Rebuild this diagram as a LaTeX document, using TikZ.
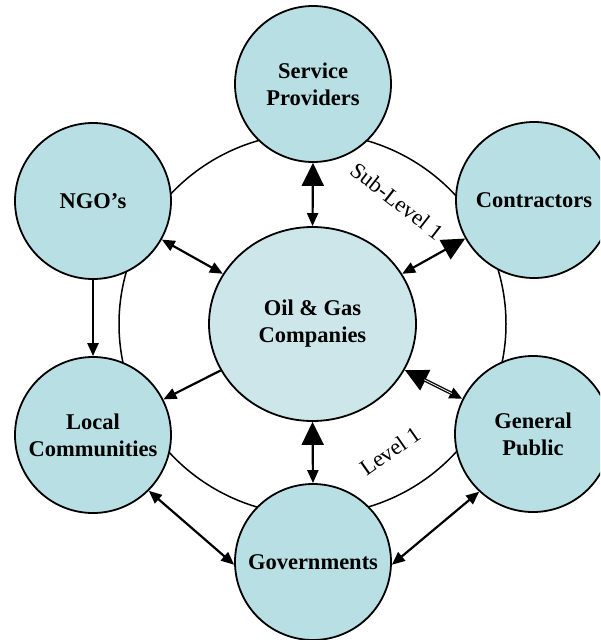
\documentclass[tikz,border=0pt]{standalone}
\usepackage{fontspec}
\setmainfont{Liberation Serif}
\usetikzlibrary{arrows.meta,shapes.geometric}
\definecolor{outerfill}{RGB}{184,223,227}
\definecolor{innerfill}{RGB}{204,230,234}
\tikzset{
  BigHead/.tip={Triangle[length=23pt,width=22pt]},
  SmallHead/.tip={Triangle[length=13pt,width=11pt]},
}
\begin{document}
\begin{tikzpicture}[x=1pt,y=-1pt,
  txt/.style={font=\fontsize{22.5}{27}\selectfont, inner sep=0pt},
  party/.style={circle, draw=black, line width=1.8pt, fill=outerfill,
    minimum size=156pt, inner sep=0pt, align=center,
    font=\fontsize{22.5}{27}\selectfont\bfseries},
  hub/.style={ellipse, draw=black, line width=1.8pt, fill=innerfill,
    minimum width=207pt, minimum height=194pt, inner sep=0pt, align=center,
    font=\fontsize{22.5}{27}\selectfont\bfseries},
  link/.style={line width=2.2pt},
  ring/.style={line width=1.5pt}
]
\useasboundingbox (0,0) rectangle (600,640);
\fill[white] (0,0) rectangle (600,640);
\begin{scope}
\clip (0,0) rectangle (600,640);
\draw[ring] (312.5,324) ellipse [x radius=193.5pt, y radius=191pt];

\node[hub] (oil) at (312.5,324) {Oil \& Gas\\Companies};
\node[party] (sp) at (313,84) {Service\\Providers};
\node[party] (ngo) at (93,201) {NGO’s};
\node[party] (con) at (534,200) {Contractors};
\node[party] (lc) at (93,435) {Local\\Communities};
\node[party] (gp) at (533,434) {General\\Public};
\node[party] (gov) at (313,562) {Governments};

\node[txt, rotate=-38] (sub) at (397,201) {Sub-Level 1};
\node[txt, rotate=35] (lev) at (390,451) {Level 1};

\draw[link, BigHead-SmallHead] (sp.south) -- (oil.north);
\draw[link, BigHead-SmallHead] (oil.south) -- (gov.north);
\draw[link, SmallHead-SmallHead] (ngo) -- (oil);
\draw[link, BigHead-SmallHead] (con) -- (oil);
\draw[link, -SmallHead] (oil) -- (lc);
\draw[line width=3.4pt, BigHead-SmallHead] (oil) -- (gp);
\draw[white, line width=0.8pt, shorten <=22pt, shorten >=12pt] (oil) -- (gp);
\draw[link, -SmallHead] (ngo.south) -- (lc.north);
\draw[link, SmallHead-SmallHead] (lc.-45) -- (gov.182);
\draw[link, SmallHead-SmallHead] (gp.-133) -- (gov.-2);
\end{scope}
\end{tikzpicture}
\end{document}
